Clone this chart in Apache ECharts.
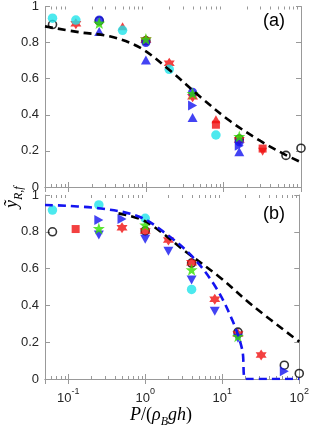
<!DOCTYPE html>
<html><head><meta charset="utf-8">
<script src="https://cdn.jsdelivr.net/npm/echarts@6/dist/echarts.min.js"></script>
<style>html,body{margin:0;padding:0;background:#fff}#c{width:312px;height:429px}</style>
</head><body><div id="c"></div>
<script>
// ---- tick values ----
const xMajorTicks = [0.1, 1, 10, 100];
const xMinorTicks = [0.06,0.07,0.08,0.09,0.2,0.3,0.4,0.5,0.6,0.7,0.8,0.9,2,3,4,5,6,7,8,9,20,30,40,50,60,70,80,90];
const yTicks = [0, 0.2, 0.4, 0.6, 0.8, 1];

// ---- panel (a) ----
const aBlackCircle = [[0.0625,0.90],[0.25,0.92],[1,0.81],[16,0.265],[64,0.175],[100,0.215]];
const aRedHex = [[0.125,0.905],[1,0.815],[2,0.685],[4,0.50],[16,0.26]];
const aRedSquare = [[8,0.345],[32,0.213]];
const aRedUp = [[0.5,0.89],[8,0.375]];
const aRedDown = [[32,0.195]];
const aBlueCircle = [[0.25,0.925],[1,0.80],[4,0.525],[16,0.25]];
const aBlueUp = [[0.25,0.862],[1,0.703],[4,0.385],[16,0.195]];
const aBlueRight = [[4,0.451],[16,0.228]];
const aCyan = [[0.0625,0.935],[0.125,0.925],[0.5,0.868],[2,0.652],[8,0.288]];
const aGreenStar = [[0.25,0.908],[1,0.82],[4,0.518],[16,0.28]];
const aBlackCurve = [[0.05,0.89],[0.14,0.857],[0.34,0.835],[0.84,0.772],[2.05,0.645],[5,0.5],[12.3,0.364],[30,0.255],[59,0.185],[100,0.137]];

// ---- panel (b) ----
const bBlackCircle = [[0.0625,0.80],[1,0.805],[4,0.63],[16,0.255],[64,0.075],[100,0.03]];
const bRedSquare = [[0.125,0.815]];
const bRedHex = [[0.5,0.822],[1,0.805],[2,0.755],[4,0.632],[8,0.433],[16,0.245],[32,0.13]];
const bBlueRight = [[0.25,0.864],[0.5,0.87],[64,0.042]];
const bBlueDown = [[0.25,0.782],[1,0.76],[2,0.694],[4,0.538],[8,0.368],[16,0.222]];
const bCyan = [[0.0625,0.918],[0.25,0.946],[1,0.873],[4,0.487]];
const bGreenStar = [[0.25,0.818],[1,0.837],[4,0.594],[16,0.232]];
const bBlackCurve = [[0.45,0.9],[1.02,0.855],[3.4,0.69],[9.1,0.556],[24.6,0.40],[100,0.203]];
const bBlueCurve = [[0.05,0.946],[0.25,0.928],[0.84,0.882],[1.85,0.79],[4.1,0.665],[8.2,0.50],[13.5,0.32],[18.2,0.158],[20.1,0],[100,0]];

// ---- styles ----
const C = {black:'#000000', red:'#f01010', blue:'#1414f0', cyan:'#1fe3ea', green:'#33e000', axis:'#999999', text:'#262626'};
const SYM = {
  star:'path://M0,-10L2.35,-3.24L9.51,-3.09L3.8,1.24L5.88,8.09L0,4L-5.88,8.09L-3.8,1.24L-9.51,-3.09L-2.35,-3.24Z',
  hexagram:'path://M0,-10L2.89,-5L8.66,-5L5.77,0L8.66,5L2.89,5L0,10L-2.89,5L-8.66,5L-5.77,0L-8.66,-5L-2.89,-5Z',
  right:'path://M-8,-9L10,0L-8,9Z',
  down:'path://M-9,-8L9,-8L0,10Z'
};
const grids = [
  {left:45, top:3, width:256, height:184},
  {left:45, top:195, width:256, height:184}
];

const xAxes = [], yAxes = [];
grids.forEach((g, i) => {
  const showLab = i === 1;
  const base = {type:'log', logBase:10, min:0.05, max:100, gridIndex:i,
    axisLine:{show:true, lineStyle:{color:C.axis, width:1}},
    axisTick:{show:true, inside:true, length:5, lineStyle:{color:C.axis}},
    splitLine:{show:false}, minorTick:{show:false}};
  xAxes.push(Object.assign({}, base, {position:'bottom',
    axisLabel:{show:showLab, margin:8, showMinLabel:false,
      formatter: v => { const e = Math.round(Math.log10(v)); return xMajorTicks.some(t=>Math.abs(t-v)<1e-9) ? '{b|10}{s|'+(e<0?'-':'')+Math.abs(e)+'}' : ''; },
      rich:{b:{fontSize:13, fontFamily:'Liberation Sans', color:C.text, verticalAlign:'bottom', lineHeight:18},
            s:{fontSize:9, fontFamily:'Liberation Sans', color:C.text, verticalAlign:'top', lineHeight:10}}}}));
  xAxes.push(Object.assign({}, base, {position:'top', axisLabel:{show:false}}));
  const ybase = {type:'value', min:0, max:1, interval:0.2, gridIndex:i,
    axisLine:{show:true, lineStyle:{color:C.axis, width:1}},
    axisTick:{show:true, inside:true, length:5, lineStyle:{color:C.axis}},
    splitLine:{show:false}};
  yAxes.push(Object.assign({}, ybase, {position:'left',
    axisLabel:{show:true, margin:6, fontSize:13, fontFamily:'Liberation Sans', color:C.text,
      formatter: v => { const t = yTicks.find(k=>Math.abs(k-v)<1e-9); return t===undefined?'':String(t); }}}));
  yAxes.push(Object.assign({}, ybase, {position:'right', axisLabel:{show:false}}));
});

function sc(name, gi, data, symbol, color, size, extra) {
  return Object.assign({type:'scatter', name, xAxisIndex:gi*2, yAxisIndex:gi*2, data, symbol, symbolSize:size,
    itemStyle:{color:color}, silent:true, animation:false}, extra||{});
}
function openCircle(gi, data) {
  return sc('o', gi, data, 'circle', 'rgba(0,0,0,0)', 8, {itemStyle:{color:'rgba(0,0,0,0)', borderColor:C.black, borderWidth:1.6}});
}
function dashed(gi, data, color) {
  return {type:'line', xAxisIndex:gi*2, yAxisIndex:gi*2, data, showSymbol:false, symbol:'none', smooth:0.35,
    lineStyle:{color:color, width:2.6, type:[8,5]}, z:5, silent:true, animation:false};
}
function minorTicks(gi) {
  return {type:'custom', xAxisIndex:gi*2, yAxisIndex:gi*2, data:xMinorTicks.map(v=>[v,0]), silent:true, animation:false, z:1,
    encode:{x:0, y:1},
    renderItem:(params, api) => {
      const v = api.value(0);
      const p0 = api.coord([v, 0]), p1 = api.coord([v, 1]);
      const x = Math.round(p0[0]) + 0.5;
      return {type:'group', children:[
        {type:'line', shape:{x1:x, y1:p0[1], x2:x, y2:p0[1]-3}, style:{stroke:C.axis, lineWidth:1}},
        {type:'line', shape:{x1:x, y1:p1[1], x2:x, y2:p1[1]+3}, style:{stroke:C.axis, lineWidth:1}}
      ]};
    }};
}

const series = [
  minorTicks(0), minorTicks(1),
  // panel a
  openCircle(0, aBlackCircle),
  sc('rh',0,aRedHex,SYM.hexagram,C.red,11),
  sc('rs',0,aRedSquare,'rect',C.red,8),
  sc('ru',0,aRedUp,'triangle',C.red,[9,8]),
  sc('rd',0,aRedDown,SYM.down,C.red,[9,8]),
  sc('bc',0,aBlueCircle,'circle',C.blue,9),
  sc('bu',0,aBlueUp,'triangle',C.blue,[10,9]),
  sc('br',0,aBlueRight,SYM.right,C.blue,[9,10]),
  sc('cy',0,aCyan,'circle',C.cyan,9.5),
  sc('gs',0,aGreenStar,SYM.star,C.green,12),
  dashed(0, aBlackCurve, C.black),
  // panel b
  openCircle(1, bBlackCircle),
  sc('rs',1,bRedSquare,'rect',C.red,8),
  sc('rh',1,bRedHex,SYM.hexagram,C.red,11),
  sc('br',1,bBlueRight,SYM.right,C.blue,[9,10]),
  sc('bd',1,bBlueDown,SYM.down,C.blue,[10,9]),
  sc('cy',1,bCyan,'circle',C.cyan,9.5),
  sc('gs',1,bGreenStar,SYM.star,C.green,12),
  dashed(1, bBlackCurve, C.black),
  dashed(1, bBlueCurve, C.blue)
];

const chart = echarts.init(document.getElementById('c'), null, {renderer:'canvas'});
chart.setOption({
  animation:false,
  backgroundColor:'#ffffff',
  grid: grids,
  xAxis: xAxes,
  yAxis: yAxes,
  series: series,
  graphic: [
    {type:'text', left:263, top:12, style:{text:'(a)', fontSize:18, fontFamily:'Liberation Sans', fill:'#000'}},
    {type:'text', left:263, top:205, style:{text:'(b)', fontSize:18, fontFamily:'Liberation Sans', fill:'#000'}},
    {type:'text', x:3, y:208, rotation:Math.PI/2,
      style:{text:'{i|ỹ}{s|R,f}', rich:{
        i:{fontSize:18, fontFamily:'Liberation Serif', fontStyle:'italic', fill:'#000', verticalAlign:'top', lineHeight:22},
        s:{fontSize:12, fontFamily:'Liberation Serif', fontStyle:'italic', fill:'#000', verticalAlign:'bottom', lineHeight:12}}}},
    {type:'text', left:130, top:406,
      style:{text:'{i|P}{n|/(}{i|ρ}{s|B}{i|gh}{n|)}', rich:{
        i:{fontSize:18, fontFamily:'Liberation Serif', fontStyle:'italic', fill:'#000', verticalAlign:'top', lineHeight:22},
        n:{fontSize:18, fontFamily:'Liberation Serif', fill:'#000', verticalAlign:'top', lineHeight:22},
        s:{fontSize:12, fontFamily:'Liberation Serif', fontStyle:'italic', fill:'#000', verticalAlign:'bottom', lineHeight:12}}}}
  ]
});
</script>
</body></html>
